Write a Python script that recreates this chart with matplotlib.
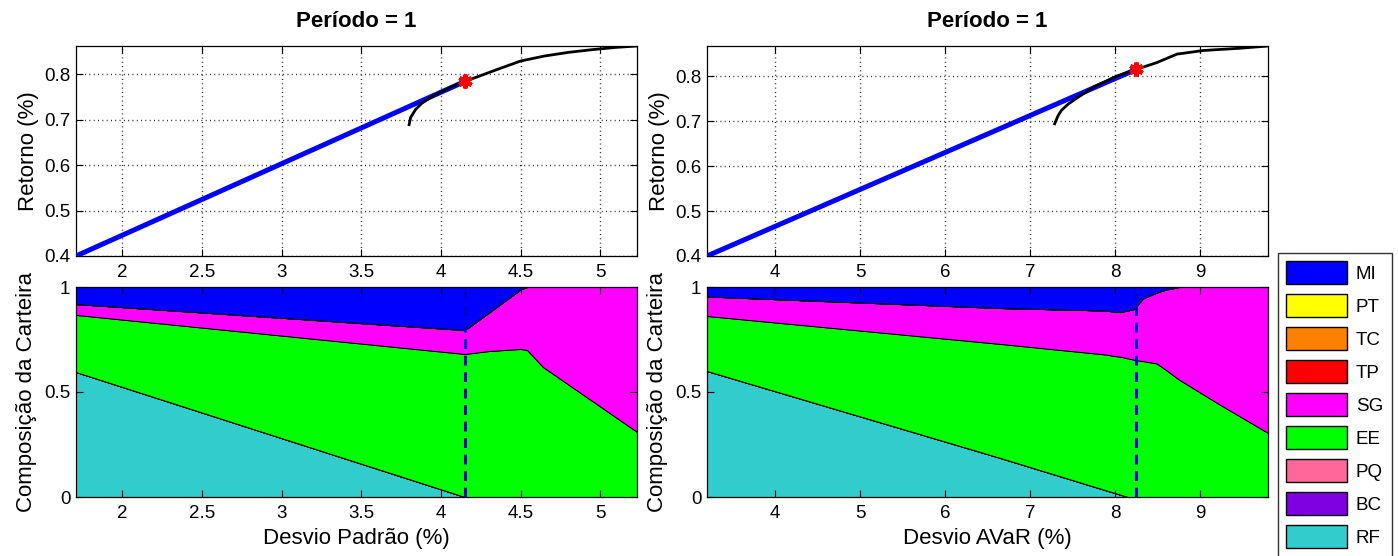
import matplotlib
matplotlib.use("Agg")
import matplotlib.pyplot as plt
from matplotlib.patches import Patch
from matplotlib.ticker import FormatStrFormatter, FixedLocator

plt.rcParams['font.family'] = ['Liberation Sans', 'DejaVu Sans']

# ---- efficient frontier: standard deviation ----
sd_frontier_x = [3.80, 3.81, 3.84, 3.88, 3.94, 4.00, 4.07, 4.15, 4.25, 4.35,
                 4.50, 4.65, 4.80, 4.95, 5.10, 5.23]
sd_frontier_y = [0.689, 0.705, 0.722, 0.736, 0.750, 0.761, 0.773, 0.784, 0.797,
                 0.810, 0.829, 0.840, 0.848, 0.854, 0.859, 0.862]
sd_cml_x = [1.71, 4.15]
sd_cml_y = [0.400, 0.784]
sd_tangent = (4.15, 0.784)

# ---- efficient frontier: AVaR ----
av_frontier_x = [7.29, 7.33, 7.37, 7.45, 7.55, 7.75, 8.02, 8.25, 8.49, 8.73,
                 9.04, 9.47, 9.80]
av_frontier_y = [0.694, 0.712, 0.724, 0.738, 0.751, 0.776, 0.800, 0.815, 0.830,
                 0.849, 0.857, 0.862, 0.867]
av_cml_x = [3.20, 8.25]
av_cml_y = [0.400, 0.815]
av_tangent = (8.25, 0.815)

# ---- portfolio composition along the standard-deviation frontier ----
sd_comp_x = [1.71, 4.15, 4.30, 4.50, 4.54, 4.64, 5.23]
sd_RF = [0.595, 0.0, 0.0, 0.0, 0.0, 0.0, 0.0]
sd_EE = [0.272, 0.681, 0.695, 0.705, 0.700, 0.619, 0.310]
sd_SG = [0.052, 0.114, 0.183, 0.284, 0.300, 0.381, 0.690]
sd_MI = [0.081, 0.205, 0.122, 0.011, 0.0, 0.0, 0.0]

# ---- portfolio composition along the AVaR frontier ----
av_comp_x = [3.20, 6.65, 7.90, 8.00, 8.08, 8.15, 8.22, 8.33, 8.49, 8.60,
             8.75, 9.20, 9.80]
av_RF = [0.600, 0.186, 0.031, 0.019, 0.009, 0.0, 0.0, 0.0, 0.0, 0.0, 0.0, 0.0, 0.0]
av_EE = [0.262, 0.543, 0.647, 0.652, 0.658, 0.660, 0.654, 0.647, 0.636, 0.605,
         0.560, 0.448, 0.305]
av_SG = [0.093, 0.171, 0.210, 0.210, 0.216, 0.228, 0.241, 0.299, 0.338, 0.383,
         0.440, 0.552, 0.695]
av_MI = [0.045, 0.100, 0.112, 0.119, 0.117, 0.112, 0.105, 0.054, 0.026, 0.012,
         0.0, 0.0, 0.0]

assets = ['RF', 'BC', 'PQ', 'EE', 'SG', 'TP', 'TC', 'PT', 'MI']
asset_colors = {
    'RF': '#33CCCC', 'BC': '#7F00E0', 'PQ': '#FF6699', 'EE': '#00FF00',
    'SG': '#FF00FF', 'TP': '#FF0000', 'TC': '#FF8000', 'PT': '#FFFF00',
    'MI': '#0000FF',
}

sd_xticks = [2, 2.5, 3, 3.5, 4, 4.5, 5]
av_xticks = [4, 5, 6, 7, 8, 9]
ret_yticks = [0.4, 0.5, 0.6, 0.7, 0.8]
comp_yticks = [0, 0.5, 1]

W, H = 1398, 556
fig = plt.figure(figsize=(W / 100, H / 100), dpi=100)


def box(x0, y0, x1, y1):
    return [x0 / W, 1 - y1 / H, (x1 - x0) / W, (y1 - y0) / H]


TICK_FS = 13.5
LABEL_FS = 16


def style(ax):
    ax.tick_params(direction='in', length=5, top=True, right=True,
                   labelsize=TICK_FS, pad=4, width=0.8)
    ax.tick_params(axis='x', pad=6)
    for s in ax.spines.values():
        s.set_linewidth(0.9)
    ax.xaxis.set_major_formatter(FormatStrFormatter('%g'))
    ax.yaxis.set_major_formatter(FormatStrFormatter('%g'))


def frontier_panel(ax, fx, fy, cx, cy, tangent, xlim, ylim, xticks):
    ax.plot(cx, cy, color='#0000FF', lw=3.6, solid_capstyle='butt', zorder=3)
    ax.plot(fx, fy, color='black', lw=2.0, zorder=4)
    ax.plot([tangent[0]], [tangent[1]], marker=(6, 2, 0), markersize=10,
            markeredgewidth=3.0, color='#FF0000', zorder=5)
    ax.set_xlim(*xlim)
    ax.set_ylim(*ylim)
    ax.xaxis.set_major_locator(FixedLocator(xticks))
    ax.yaxis.set_major_locator(FixedLocator(ret_yticks))
    ax.grid(True, color='#202020', linestyle=(0, (0.7, 2.4)), linewidth=1.0)
    ax.set_title('Período = 1', fontsize=16, fontweight='bold', pad=14)
    ax.set_ylabel('Retorno (%)', fontsize=LABEL_FS, labelpad=4)
    style(ax)


def composition_panel(ax, x, weights, tangent_x, xlim, xticks, xlabel):
    ax.stackplot(x, *[weights[a] for a in assets],
                 colors=[asset_colors[a] for a in assets],
                 edgecolor='black', linewidth=0.7)
    ax.plot([tangent_x, tangent_x], [0, 1], color='#0000CC', lw=2.2,
            linestyle=(0, (3.2, 2.2)), zorder=4)
    ax.set_xlim(*xlim)
    ax.set_ylim(0, 1)
    ax.xaxis.set_major_locator(FixedLocator(xticks))
    ax.yaxis.set_major_locator(FixedLocator(comp_yticks))
    ax.set_xlabel(xlabel, fontsize=LABEL_FS, labelpad=4)
    ax.set_ylabel('Composição da Carteira', fontsize=LABEL_FS, labelpad=5)
    style(ax)


zeros_sd = [0.0] * len(sd_comp_x)
zeros_av = [0.0] * len(av_comp_x)
sd_weights = {'RF': sd_RF, 'BC': zeros_sd, 'PQ': zeros_sd, 'EE': sd_EE,
              'SG': sd_SG, 'TP': zeros_sd, 'TC': zeros_sd, 'PT': zeros_sd,
              'MI': sd_MI}
av_weights = {'RF': av_RF, 'BC': zeros_av, 'PQ': zeros_av, 'EE': av_EE,
              'SG': av_SG, 'TP': zeros_av, 'TC': zeros_av, 'PT': zeros_av,
              'MI': av_MI}

ax1 = fig.add_axes(box(76, 46, 637, 256))
frontier_panel(ax1, sd_frontier_x, sd_frontier_y, sd_cml_x, sd_cml_y,
               sd_tangent, (1.71, 5.23), (0.4, 0.862), sd_xticks)

ax2 = fig.add_axes(box(707, 46, 1268, 256))
frontier_panel(ax2, av_frontier_x, av_frontier_y, av_cml_x, av_cml_y,
               av_tangent, (3.2, 9.8), (0.4, 0.867), av_xticks)

ax3 = fig.add_axes(box(76, 287, 637, 497))
composition_panel(ax3, sd_comp_x, sd_weights, sd_tangent[0], (1.71, 5.23),
                  sd_xticks, 'Desvio Padrão (%)')

ax4 = fig.add_axes(box(707, 287, 1268, 497))
composition_panel(ax4, av_comp_x, av_weights, av_tangent[0], (3.2, 9.8),
                  av_xticks, 'Desvio AVaR (%)')

legend_order = ['MI', 'PT', 'TC', 'TP', 'SG', 'EE', 'PQ', 'BC', 'RF']
handles = [Patch(facecolor=asset_colors[a], edgecolor='black', linewidth=1.0,
                 label=a) for a in legend_order]
leg = fig.legend(handles=handles, loc='upper left',
                 bbox_to_anchor=(1278 / W, 1 - 253 / H),
                 fontsize=13.5, frameon=True, fancybox=False,
                 handlelength=3.25, handleheight=1.5, labelspacing=0.54,
                 borderpad=0.45, handletextpad=0.45, borderaxespad=0)
leg.get_frame().set_edgecolor('black')
leg.get_frame().set_linewidth(1.0)

fig.savefig('out.png', dpi=100)
